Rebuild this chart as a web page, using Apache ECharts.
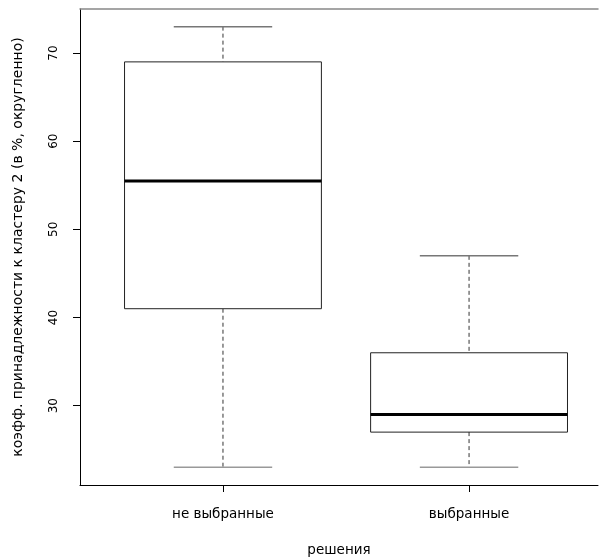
<!DOCTYPE html>
<html>
<head>
<meta charset="utf-8">
<script src="https://cdn.jsdelivr.net/npm/echarts@6/dist/echarts.min.js"></script>
<style>html,body{margin:0;padding:0;background:#fff}#c{width:599px;height:558px}</style>
</head>
<body>
<div id="c"></div>
<script>
var categories = ['не выбранные', 'выбранные'];
var lowerWhisker = [23, 23];
var q1 = [41, 27];
var median = [55.5, 29];
var q3 = [69, 36];
var upperWhisker = [73, 47];
var yTicks = [30, 40, 50, 60, 70];

var data = categories.map(function (c, i) {
  return [i + 1, lowerWhisker[i], q1[i], median[i], q3[i], upperWhisker[i]];
});

var FONT = 'DejaVu Sans';
var chart = echarts.init(document.getElementById('c'), null, {renderer: 'canvas'});

function renderItem(params, api) {
  var x = api.value(0);
  var lo = api.coord([x, api.value(1)]);
  var b1 = api.coord([x, api.value(2)]);
  var md = api.coord([x, api.value(3)]);
  var b3 = api.coord([x, api.value(4)]);
  var hi = api.coord([x, api.value(5)]);
  var bw = api.size([0.8, 0])[0];
  var cw = api.size([0.4, 0])[0];
  var cx = lo[0];
  return {
    type: 'group',
    children: [
      {type: 'line', shape: {x1: cx, y1: hi[1], x2: cx, y2: b3[1]},
       style: {stroke: '#333', lineWidth: 1, lineDash: [4, 3]}},
      {type: 'line', shape: {x1: cx, y1: b1[1], x2: cx, y2: lo[1]},
       style: {stroke: '#333', lineWidth: 1, lineDash: [4, 3]}},
      {type: 'line', shape: {x1: cx - cw / 2, y1: hi[1], x2: cx + cw / 2, y2: hi[1]},
       style: {stroke: '#777', lineWidth: 1.5}},
      {type: 'line', shape: {x1: cx - cw / 2, y1: lo[1], x2: cx + cw / 2, y2: lo[1]},
       style: {stroke: '#999', lineWidth: 1.5}},
      {type: 'rect', shape: {x: cx - bw / 2, y: b3[1], width: bw, height: b1[1] - b3[1]},
       style: {fill: '#fff', stroke: '#222', lineWidth: 1}},
      {type: 'line', shape: {x1: cx - bw / 2, y1: md[1], x2: cx + bw / 2, y2: md[1]},
       style: {stroke: '#000', lineWidth: 3}}
    ]
  };
}

chart.setOption({
  animation: false,
  backgroundColor: '#fff',
  grid: {left: 80, top: 9, height: 476, right: 1, show: false, containLabel: false, outerBoundsMode: 'none'},
  xAxis: [{
    type: 'value', min: 0.419, max: 2.524,
    name: 'решения', nameLocation: 'middle', nameGap: 58,
    nameTextStyle: {fontFamily: FONT, fontSize: 13.5, color: '#000'},
    axisLine: {show: true, onZero: false, lineStyle: {color: '#000', width: 1}},
    axisTick: {show: true, length: 7, lineStyle: {color: '#000'}, customValues: [1, 2]},
    axisLabel: {fontFamily: FONT, fontSize: 13.5, color: '#000', margin: 22, customValues: [1, 2],
      formatter: function (v) { return categories[Math.round(v) - 1] || ''; }},
    splitLine: {show: false}
  }, {
    type: 'value', position: 'top', min: 0.419, max: 2.524,
    axisLine: {show: true, onZero: false, lineStyle: {color: '#888', width: 1.5}},
    axisTick: {show: false}, axisLabel: {show: false}, splitLine: {show: false}
  }],
  yAxis: {
    type: 'value', min: 21, max: 75,
    name: 'коэфф. принадлежности к кластеру 2 (в %, округленно)',
    nameLocation: 'middle', nameGap: 55, nameRotate: 90,
    nameTextStyle: {fontFamily: FONT, fontSize: 14, color: '#000'},
    axisLine: {show: true, lineStyle: {color: '#000', width: 1}},
    axisTick: {show: true, length: 7, lineStyle: {color: '#000'}, customValues: yTicks},
    axisLabel: {fontFamily: FONT, fontSize: 12, color: '#000', margin: 20, rotate: 90, customValues: yTicks},
    splitLine: {show: false}
  },
  series: [{
    type: 'custom',
    renderItem: renderItem,
    encode: {x: 0, y: [1, 2, 3, 4, 5]},
    data: data
  }]
});
</script>
</body>
</html>
